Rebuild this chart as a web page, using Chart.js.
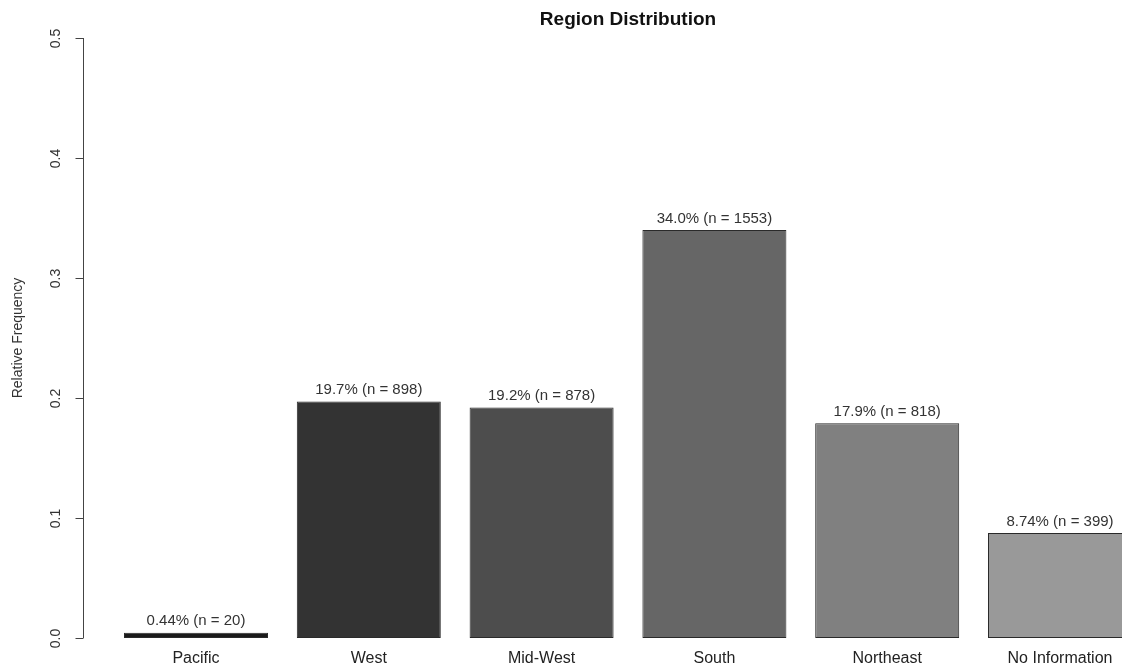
<!DOCTYPE html>
<html>
<head>
<meta charset="utf-8">
<script src="https://cdn.jsdelivr.net/npm/chart.js@4/dist/chart.umd.min.js"></script>
<style>
  html, body { margin: 0; padding: 0; background: #fff; overflow: hidden; }
  #wrap { width: 1180px; height: 666px; position: relative; }
</style>
</head>
<body>
<div id="wrap"><canvas id="regionChart"></canvas></div>
<script>
// datos
const regiones = ['Pacific', 'West', 'Mid-West', 'South', 'Northeast', 'No Information'];
const frecuencias = [0.0044, 0.197, 0.192, 0.340, 0.179, 0.0874];
const etiquetas = ['0.44% (n = 20)', '19.7% (n = 898)', '19.2% (n = 878)', '34.0% (n = 1553)', '17.9% (n = 818)', '8.74% (n = 399)'];
const colores = ['#1a1a1a', '#333333', '#4d4d4d', '#666666', '#808080', '#999999'];
const ticksY = [0, 0.1, 0.2, 0.3, 0.4, 0.5];

const FUENTE = 'Arial, "Liberation Sans", sans-serif';

// eje Y al estilo R (separado de las barras)
const ejeR = {
    id: 'ejeR',
    afterDraw(chart) {
        const ctx = chart.ctx;
        const y = chart.scales.y;
        const xEje = 83.5;
        ctx.save();
        ctx.strokeStyle = '#444';
        ctx.lineWidth = 1;
        ctx.beginPath();
        ctx.moveTo(xEje, y.getPixelForValue(0));
        ctx.lineTo(xEje, y.getPixelForValue(0.5));
        ctx.stroke();
        ctx.fillStyle = '#333';
        ctx.font = '14px ' + FUENTE;
        ctx.textAlign = 'center';
        ctx.textBaseline = 'middle';
        ticksY.forEach(v => {
            const py = Math.round(y.getPixelForValue(v)) + 0.5;
            ctx.beginPath();
            ctx.moveTo(xEje - 8, py);
            ctx.lineTo(xEje, py);
            ctx.stroke();
            ctx.save();
            ctx.translate(56, py);
            ctx.rotate(-Math.PI / 2);
            ctx.fillText(v.toFixed(1), 0, 0);
            ctx.restore();
        });
        // titulo eje
        ctx.save();
        ctx.translate(18, (y.getPixelForValue(0) + y.getPixelForValue(0.5)) / 2);
        ctx.rotate(-Math.PI / 2);
        ctx.font = '14px ' + FUENTE;
        ctx.fillText('Relative Frequency', 0, 0);
        ctx.restore();
        // titulo
        ctx.fillStyle = '#111';
        ctx.font = 'bold 19px ' + FUENTE;
        ctx.fillText('Region Distribution', 628, 20);
        ctx.restore();
    },
    afterDatasetsDraw(chart) {
        const ctx = chart.ctx;
        const meta = chart.getDatasetMeta(0);
        ctx.save();
        ctx.fillStyle = '#333';
        ctx.font = '15px ' + FUENTE;
        ctx.textAlign = 'center';
        ctx.textBaseline = 'bottom';
        meta.data.forEach((bar, i) => {
            ctx.fillText(etiquetas[i], bar.x, bar.y - 4);
        });
        ctx.restore();
    }
};

const ctx = document.getElementById('regionChart').getContext('2d');
new Chart(ctx, {
    type: 'bar',
    data: {
        labels: regiones,
        datasets: [{
            data: frecuencias,
            backgroundColor: colores,
            borderColor: '#2a2a2a',
            borderWidth: 1,
            borderSkipped: false,
            barPercentage: 144 / 172.8,
            categoryPercentage: 1
        }]
    },
    options: {
        responsive: true,
        maintainAspectRatio: false,
        animation: false,
        layout: { padding: { left: 109.6, right: 33.6, top: 38, bottom: 0 } },
        plugins: {
            legend: { display: false },
            tooltip: { enabled: false },
            title: { display: false }
        },
        scales: {
            x: {
                grid: { display: false, drawTicks: false },
                border: { display: false },
                ticks: { color: '#222', font: { family: FUENTE, size: 16 }, padding: 11, maxRotation: 0, autoSkip: false },
                afterFit: s => { s.height = 28; }
            },
            y: {
                display: false,
                min: 0,
                max: 0.5
            }
        }
    },
    plugins: [ejeR]
});
</script>
</body>
</html>
